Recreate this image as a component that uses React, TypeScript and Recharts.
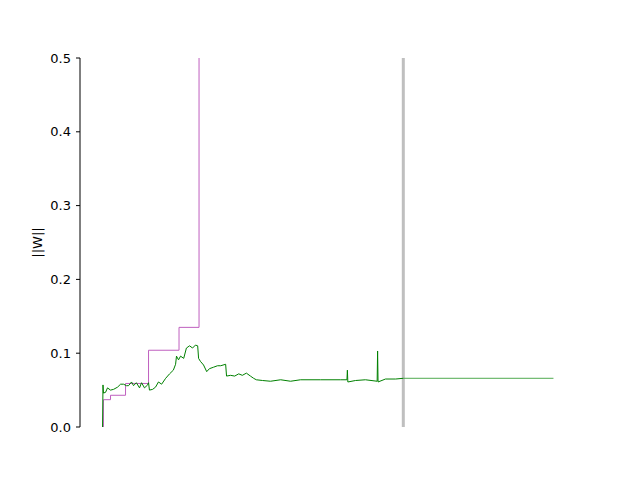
import { LineChart, Line, XAxis, YAxis, ReferenceLine } from "recharts"

// step index of each sample and the norm measured there
const normSteps = [
  0, 0.1, 0.2, 0.67, 1.1, 1.77, 2.44, 3.33, 4.0, 4.66, 5.3, 5.76, 6.43, 6.87, 7.5, 8.2, 8.65, 9.3, 10.0,
  10.2, 10.4, 11.1, 11.75, 12.4, 13.1, 14.0, 14.86, 15.7, 16.2, 16.4, 16.85, 17.3, 18.0, 18.6, 19.3,
  19.96, 20.6, 21.1, 21.3, 21.7, 22.4, 23.1, 23.7, 24.6, 25.5, 26.2, 27.3, 27.5, 28.4, 29.3, 30.2,
  31.0, 31.9, 32.8, 33.5, 34.1, 35.5, 37.25, 39.5, 41.7, 43.9, 48.3, 52.8, 54.2, 54.3, 54.4, 56.1,
  58.3, 60.9, 61.0, 61.1, 62.75, 65.0, 66.7,
]
const normValues = [
  0, 0.057, 0.046, 0.047, 0.053, 0.05, 0.051, 0.054, 0.058, 0.058, 0.056, 0.056, 0.061, 0.056, 0.06,
  0.053, 0.06, 0.053, 0.057, 0.06, 0.05, 0.051, 0.054, 0.061, 0.058, 0.066, 0.072, 0.077, 0.085, 0.096,
  0.091, 0.096, 0.093, 0.107, 0.11, 0.107, 0.111, 0.11, 0.093, 0.089, 0.084, 0.075, 0.079, 0.081, 0.083,
  0.083, 0.085, 0.069, 0.07, 0.069, 0.072, 0.07, 0.073, 0.069, 0.066, 0.064, 0.063, 0.062, 0.064, 0.062,
  0.064, 0.064, 0.064, 0.064, 0.077, 0.061, 0.063, 0.064, 0.062, 0.103, 0.061, 0.065, 0.065, 0.066,
]

// flat continuation after the marker
const tailSteps = [66.7, 100]
const tailValues = [0.066, 0.066]

// stepped bound
const boundSteps = [0, 0.2, 1.77, 5.1, 10.2, 16.96, 21.4]
const boundValues = [0, 0.037, 0.043, 0.059, 0.104, 0.135, 0.6]

const markerStep = 66.7
const yTicks = [0, 0.1, 0.2, 0.3, 0.4, 0.5]

const normData = normSteps.map((t, i) => ({ t, v: normValues[i] }))
const tailData = tailSteps.map((t, i) => ({ t, v: tailValues[i] }))
const boundData = boundSteps.map((t, i) => ({ t, v: boundValues[i] }))

export default function App() {
  const tickStyle = { fontSize: 13, fill: "#000", fontFamily: "DejaVu Sans" }
  return (
    <div style={{ position: "absolute", left: 0, top: 0 }}>
      <LineChart width={640} height={480} margin={{ top: 58, right: 64, left: 0, bottom: 53 }}>
        <XAxis dataKey="t" type="number" domain={[-5, 105]} hide allowDataOverflow />
        <YAxis
          type="number"
          domain={[0, 0.5]}
          ticks={yTicks}
          allowDataOverflow
          width={80}
          tickFormatter={(v) => Number(v).toFixed(1)}
          tick={tickStyle}
          tickSize={4}
          tickMargin={5}
          stroke="#000"
          label={{
            value: "||W||",
            angle: -90,
            position: "insideLeft",
            offset: 37,
            style: { textAnchor: "middle", fontSize: 13, fill: "#000", fontFamily: "DejaVu Sans" },
          }}
        />
        <ReferenceLine x={markerStep} stroke="#bfbfbf" strokeWidth={3} />
        <Line data={boundData} dataKey="v" type="stepAfter" stroke="#bf5fbf" strokeWidth={1} dot={false} isAnimationActive={false} />
        <Line data={tailData} dataKey="v" type="linear" stroke="#50aa50" strokeWidth={1} dot={false} isAnimationActive={false} />
        <Line data={normData} dataKey="v" type="linear" stroke="#008000" strokeWidth={1} dot={false} isAnimationActive={false} />
      </LineChart>
    </div>
  )
}
